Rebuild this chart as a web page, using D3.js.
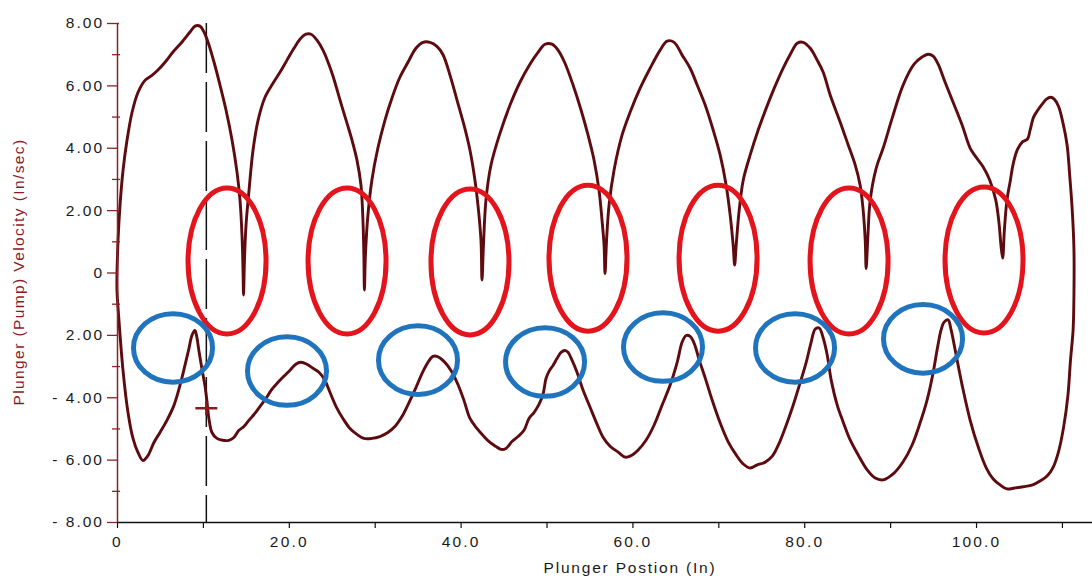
<!DOCTYPE html>
<html>
<head>
<meta charset="utf-8">
<script src="https://cdn.jsdelivr.net/npm/d3@7/dist/d3.min.js"></script>
<style>
  html, body { margin: 0; padding: 0; background: #fff; }
  svg { display: block; font-family: "Liberation Sans", Arial, Helvetica, sans-serif; }
</style>
</head>
<body>
<svg id="chart" width="1092" height="576"></svg>
<script>
// ---------- DATA ----------
// Upstroke (plunger moving right, positive velocity) — position (in), velocity (in/sec)
const upX = [0.00,0.12,0.35,0.70,1.16,1.75,2.44,3.26,4.07,4.77,5.59,6.52,7.57,8.50,9.08,9.66,10.13,10.59,11.29,11.99,12.69,13.39,13.97,14.32,14.55,14.67,14.73,14.84,15.02,15.37,15.83,16.42,17.23,18.16,18.97,19.79,20.60,21.30,22.00,22.58,23.28,23.98,24.56,25.14,25.96,26.77,27.35,27.93,28.40,28.63,28.74,28.80,28.92,29.21,29.67,30.37,31.19,32.00,32.93,33.87,34.80,35.62,36.43,37.24,37.94,38.76,39.58,40.39,41.09,41.67,42.02,42.37,42.49,42.66,42.95,43.53,44.58,45.74,46.91,48.07,49.01,49.83,50.64,51.34,52.15,53.09,54.02,54.83,55.53,56.11,56.46,56.70,56.81,56.99,57.28,57.86,58.80,59.73,60.90,62.06,63.23,64.04,64.86,65.79,66.72,67.54,68.47,69.40,70.21,70.91,71.38,71.73,71.90,72.08,72.43,72.90,73.71,74.64,75.58,76.51,77.44,78.37,79.19,79.88,80.70,81.51,82.21,83.02,84.19,85.12,85.93,86.51,86.86,87.10,87.21,87.39,87.68,88.38,89.19,90.24,91.51,92.79,93.72,94.42,95.01,95.59,96.40,97.33,98.38,99.31,100.0,100.8,101.6,102.3,102.7,102.9,103.1,103.3,103.6,104.0,104.3,104.8,105.4,106.0,106.3,106.7,107.2,107.7,108.2,108.7,109.1,109.6,110.1,110.6,110.9,111.2,111.4];
const upY = [0.00,1.03,2.15,3.27,4.23,5.13,5.77,6.16,6.32,6.49,6.74,7.07,7.39,7.71,7.90,7.90,7.71,7.39,6.75,6.01,5.21,4.25,3.22,2.32,1.20,0.08,-0.72,0.40,1.52,2.64,3.91,4.88,5.62,6.07,6.42,6.81,7.19,7.48,7.64,7.64,7.45,7.13,6.75,6.30,5.53,4.79,4.25,3.61,2.80,1.68,0.56,-0.56,0.56,1.84,2.96,3.99,4.88,5.59,6.26,6.74,7.19,7.38,7.38,7.25,6.99,6.33,5.53,4.73,3.92,2.96,2.16,1.04,-0.24,0.88,2.32,3.44,4.46,5.36,6.10,6.68,7.06,7.32,7.32,7.13,6.71,6.01,5.21,4.41,3.61,2.64,1.68,0.88,-0.03,1.04,2.16,3.28,4.41,5.14,5.91,6.55,7.13,7.42,7.38,6.97,6.55,6.01,5.37,4.57,3.77,2.80,1.84,0.88,0.24,0.88,2.00,2.96,3.77,4.57,5.27,5.91,6.49,6.99,7.35,7.38,7.19,6.81,6.42,5.69,4.82,4.09,3.45,2.80,2.00,1.04,0.13,1.04,2.32,3.35,3.99,4.95,6.01,6.68,6.91,7.00,6.94,6.68,6.10,5.46,4.73,3.99,3.70,3.40,2.96,2.32,1.52,0.88,0.46,1.36,2.32,2.96,3.45,3.93,4.19,4.28,4.57,4.98,5.21,5.40,5.56,5.62,5.56,5.33,4.82,4.09,3.13,2.00,0.72];
// Downstroke (plunger moving left, negative velocity)
const downX = [111.4,111.3,111.0,110.7,110.2,109.6,109.0,108.3,107.5,106.6,105.5,104.5,103.6,102.8,102.0,101.2,100.3,99.31,98.38,97.68,97.10,96.75,96.28,95.93,95.47,95.00,94.30,93.49,92.56,91.51,90.35,89.19,88.26,87.33,86.28,85.35,84.53,83.84,83.14,82.67,82.21,81.74,81.28,80.81,80.23,79.53,78.72,77.91,77.09,76.28,75.47,74.53,73.71,72.90,72.08,71.15,70.21,69.28,68.47,67.77,67.19,66.72,66.26,65.79,65.21,64.39,63.46,62.53,61.60,60.67,59.73,59.15,58.34,57.40,56.58,55.88,55.07,54.25,53.55,52.97,52.50,52.15,51.69,51.22,50.76,50.29,49.94,49.59,49.12,48.54,47.96,47.38,46.68,45.98,45.28,44.70,44.12,43.42,42.72,41.90,41.09,40.39,39.69,38.88,38.06,37.24,36.78,36.20,35.50,34.80,33.99,33.17,32.35,31.53,30.60,29.67,28.74,27.93,27.12,26.30,25.49,24.79,24.21,23.51,22.81,22.11,21.40,20.81,20.12,19.42,18.72,18.02,17.33,16.74,16.05,15.35,14.77,14.19,13.60,13.02,12.32,11.63,11.05,10.70,10.46,10.23,9.88,9.53,9.30,9.07,8.72,8.37,7.91,7.33,6.63,5.81,5.00,4.30,3.60,3.02,2.44,1.86,1.28,0.70,0.23,0.00,0.00];
const downY = [-0.66,-1.84,-2.80,-3.93,-4.95,-5.75,-6.23,-6.52,-6.68,-6.81,-6.87,-6.91,-6.94,-6.81,-6.62,-6.27,-5.63,-4.73,-3.61,-2.64,-1.84,-1.52,-1.59,-1.84,-2.48,-3.22,-4.09,-4.82,-5.53,-6.07,-6.46,-6.65,-6.59,-6.33,-5.85,-5.37,-4.79,-4.25,-3.45,-2.64,-2.10,-1.78,-1.81,-2.23,-2.88,-3.53,-4.25,-4.89,-5.47,-5.89,-6.08,-6.17,-6.27,-6.14,-5.85,-5.43,-4.82,-4.09,-3.38,-2.80,-2.27,-2.05,-2.02,-2.23,-2.88,-3.61,-4.25,-4.89,-5.37,-5.69,-5.89,-5.92,-5.76,-5.57,-5.28,-4.86,-4.32,-3.77,-3.20,-2.81,-2.56,-2.50,-2.56,-2.76,-2.98,-3.17,-3.40,-3.91,-4.23,-4.49,-4.68,-5.06,-5.26,-5.42,-5.64,-5.67,-5.58,-5.45,-5.26,-5.00,-4.68,-4.10,-3.59,-3.14,-2.85,-2.69,-2.69,-2.88,-3.24,-3.69,-4.17,-4.62,-4.94,-5.13,-5.26,-5.32,-5.32,-5.19,-5.00,-4.68,-4.29,-3.84,-3.46,-3.20,-3.07,-2.94,-2.88,-2.94,-3.14,-3.33,-3.53,-3.75,-4.04,-4.26,-4.52,-4.74,-4.94,-5.06,-5.29,-5.38,-5.38,-5.32,-5.13,-4.68,-4.10,-3.62,-3.08,-2.50,-2.08,-1.86,-2.02,-2.44,-2.98,-3.62,-4.26,-4.74,-5.13,-5.45,-5.87,-6.03,-5.77,-5.32,-4.49,-3.14,-1.54,-0.58,0.00];

// Axis ticks
const yMajorTicks = [8, 6, 4, 2, 0, -2, -4, -6, -8];
const yTickLabels = ["8.00", "6.00", "4.00", "2.00", "0", "2.00", "- 4.00", "- 6.00", "- 8.00"];
const yMinorTicks = [7, 5, 3, 1, -1, -3, -5, -7];
const xTicks = [0, 10, 20, 30, 40, 50, 60, 70, 80, 90, 100, 110];
const xTickLabels = ["0", "", "20.0", "", "40.0", "", "60.0", "", "80.0", "", "100.0", ""];

// Cursor (dashed line + marker) and annotation ellipses
const cursorX = 10.4;
const cursorMarkY = -4.35;
const redCentersX = [12.81, 26.78, 41.09, 54.83, 69.97, 85.22, 100.93];
const redCentersY = [0.37, 0.37, 0.34, 0.46, 0.46, 0.37, 0.40];
const blueCentersX = [6.52, 19.79, 35.04, 49.83, 63.56, 78.93, 93.83];
const blueCentersY = [-2.42, -3.16, -2.81, -2.87, -2.39, -2.42, -2.13];

// ---------- CHART ----------
const svg = d3.select("#chart");
const x = d3.scaleLinear().domain([0, 113.5]).range([117, 1092]);
const y = d3.scaleLinear().domain([-8, 8]).range([522, 23]);

const curveColor = "#5e0b10";
const axisRed = "#8a2328";

// dashed cursor line
svg.append("line")
  .attr("x1", x(cursorX)).attr("x2", x(cursorX))
  .attr("y1", y(8)).attr("y2", y(-8))
  .attr("stroke", "#111").attr("stroke-width", 1.5)
  .attr("stroke-dasharray", "50,9");

// curve
const pts = upX.map((v, i) => [v, upY[i]]).concat(downX.map((v, i) => [v, downY[i]]));
const line = d3.line().x(d => x(d[0])).y(d => y(d[1])).curve(d3.curveCatmullRom.alpha(0.5));
svg.append("path")
  .attr("d", line(pts))
  .attr("fill", "none")
  .attr("stroke", curveColor)
  .attr("stroke-width", 2.9)
  .attr("stroke-linejoin", "round");

// cursor marker (+)
const mx = x(cursorX), my = y(cursorMarkY);
svg.append("path")
  .attr("d", `M${mx - 11},${my}H${mx + 11}M${mx},${my - 7}V${my + 7}`)
  .attr("stroke", "#8b1a1e").attr("stroke-width", 2.5).attr("fill", "none");

// X axis
const xAxis = d3.axisBottom(x).tickValues(xTicks)
  .tickFormat((d, i) => xTickLabels[i]).tickSize(6).tickSizeOuter(0);
const gx = svg.append("g").attr("transform", `translate(0,${y(-8)})`).call(xAxis);
gx.select(".domain").attr("stroke", "#111").attr("stroke-width", 1.5);
gx.selectAll(".tick line").attr("stroke", "#111").attr("stroke-width", 1.2);
gx.selectAll(".tick text")
  .attr("font-size", 15.5).attr("fill", "#1a1a1a").attr("letter-spacing", "2.2px")
  .attr("dy", "1.05em").attr("font-family", "Liberation Sans, Arial, sans-serif");

// Y axis major
const yAxis = d3.axisLeft(y).tickValues(yMajorTicks)
  .tickFormat((d, i) => yTickLabels[i]).tickSize(10).tickSizeOuter(0).tickPadding(3);
const gy = svg.append("g").attr("transform", `translate(${x(0)},0)`).call(yAxis);
gy.select(".domain").attr("stroke", axisRed).attr("stroke-width", 1.5);
gy.selectAll(".tick line").attr("stroke", axisRed).attr("stroke-width", 1.3);
gy.selectAll(".tick text")
  .attr("font-size", 15.5).attr("fill", "#1a1a1a").attr("letter-spacing", "2px")
  .attr("font-family", "Liberation Sans, Arial, sans-serif");

// Y axis minor ticks (crossing the axis line)
const yMinorL = d3.axisLeft(y).tickValues(yMinorTicks).tickFormat("").tickSize(5).tickSizeOuter(0);
const yMinorR = d3.axisRight(y).tickValues(yMinorTicks).tickFormat("").tickSize(3).tickSizeOuter(0);
[yMinorL, yMinorR].forEach(ax => {
  const g = svg.append("g").attr("transform", `translate(${x(0)},0)`).call(ax);
  g.select(".domain").remove();
  g.selectAll(".tick line").attr("stroke", axisRed).attr("stroke-width", 1.3);
});
// small hook at top of y axis
svg.append("g").attr("transform", `translate(${x(0)},0)`)
  .call(d3.axisRight(y).tickValues([8]).tickFormat("").tickSize(2).tickSizeOuter(0))
  .call(g => g.select(".domain").remove())
  .selectAll(".tick line").attr("stroke", axisRed).attr("stroke-width", 1.3);

// Annotation ellipses
const redRx = x(4.54) - x(0), redRy = y(0) - y(2.34);
svg.append("g").selectAll("ellipse").data(redCentersX).join("ellipse")
  .attr("cx", d => x(d)).attr("cy", (d, i) => y(redCentersY[i]))
  .attr("rx", redRx).attr("ry", redRy)
  .attr("fill", "none").attr("stroke", "#e4141c").attr("stroke-width", 5);

const blueRx = x(4.6) - x(0), blueRy = y(0) - y(1.1);
svg.append("g").selectAll("ellipse").data(blueCentersX).join("ellipse")
  .attr("cx", d => x(d)).attr("cy", (d, i) => y(blueCentersY[i]))
  .attr("rx", blueRx).attr("ry", blueRy)
  .attr("fill", "none").attr("stroke", "#1f74bd").attr("stroke-width", 5);

// Axis titles
svg.append("text")
  .attr("x", 630).attr("y", 573).attr("text-anchor", "middle")
  .attr("font-size", 15.5).attr("letter-spacing", "1.8px").attr("fill", "#1a1a1a")
  .text("Plunger Postion (In)");
svg.append("text")
  .attr("transform", "translate(24,272) rotate(-90)")
  .attr("text-anchor", "middle")
  .attr("font-size", 15.5).attr("letter-spacing", "1.4px").attr("fill", "#8b1a1e")
  .text("Plunger (Pump) Velocity (In/sec)");
</script>
</body>
</html>
